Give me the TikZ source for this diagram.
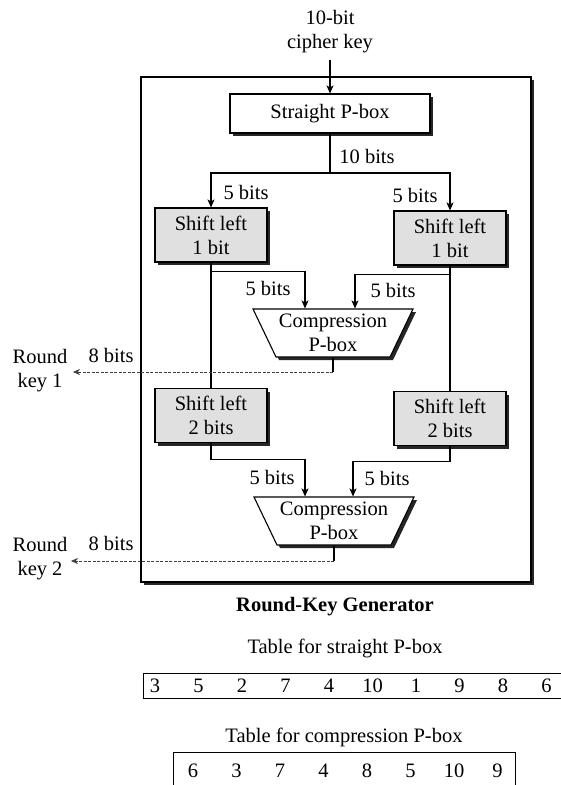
\documentclass[tikz,border=0pt]{standalone}
\usepackage{fontspec}
\setmainfont{Liberation Serif}
\usetikzlibrary{arrows.meta,shadows,calc}
\newcommand\trapshape[1]{%
  \fill[black!85, shift={(#1)}, xshift=3pt, yshift=-3pt] (-80,-24) -- (80,-24) -- (57,24) -- (-57,24) -- cycle;
  \draw[fill=white, shift={(#1)}] (-80,-24) -- (80,-24) -- (57,24) -- (-57,24) -- cycle;}
\begin{document}
\begin{tikzpicture}[x=1pt,y=-1pt,
  font=\fontsize{20.5}{24}\selectfont, line width=1.1pt,
  arr/.style={-{Stealth[length=8pt,width=7pt,inset=2pt]}},
  sh/.style={drop shadow={fill=black!85, opacity=1, shadow xshift=3pt, shadow yshift=-3pt}},
  pbox/.style={draw, fill=white, sh, inner sep=0pt, minimum width=200pt, minimum height=39pt},
  shiftbox/.style={draw, fill=black!12, sh, align=center, inner sep=0pt, minimum width=112pt, minimum height=54pt},
  frame/.style={draw, fill=white, sh, inner sep=0pt, minimum width=390pt, minimum height=505pt},
  comp/.style={inner sep=0pt, align=center, minimum width=160pt, minimum height=48pt},
  lbl/.style={inner sep=0pt},
  keytxt/.style={inner sep=0pt, align=center},
  keyline/.style={black!75, line width=1pt, dash pattern=on 3pt off 1.5pt, -{Stealth[length=7pt,width=6pt,inset=2pt]}},
  tbl/.style={draw, inner sep=0pt, line width=1pt},
  num/.style={inner sep=0pt}]
\useasboundingbox[fill=white] (0,0) rectangle (560,785);

% generator frame
\node[frame] (gen) at (336,329.5) {};

% input
\node[keytxt] (ck) at (330,32) {10-bit\\cipher key};
\node[pbox] (sp) at (330,113.5) {Straight P-box};
\draw[arr, shorten <=6pt] (ck.south) -- (sp.north);

% shift boxes
\node[shiftbox] (s1L) at (211,235) {Shift left\\1 bit};
\node[shiftbox] (s1R) at (450,238) {Shift left\\1 bit};
\node[shiftbox] (s2L) at (211,415.5) {Shift left\\2 bits};
\node[shiftbox] (s2R) at (450,418.5) {Shift left\\2 bits};

% compression P-boxes
\trapshape{333,333}
\node[comp] (cp1) at (333,333) {Compression\\P-box};
\trapshape{334,521}
\node[comp] (cp2) at (334,521) {Compression\\P-box};

% split after straight P-box
\coordinate (split) at (330,173);
\draw (sp.south) -- (split);
\draw[arr] (split) -| (s1L.north);
\draw[arr] (split) -| (s1R.north);
\node[lbl] (l10) at (367,156) {10 bits};
\node[lbl] (l5a) at (246,192) {5 bits};
\node[lbl] (l5b) at (415,195) {5 bits};

% into compression 1
\draw[arr] (s1L.south) -- ++(0,9) -| ([xshift=-28pt]cp1.north);
\draw[arr] (s1R.south) -- ++(0,9) -| ([xshift=22pt]cp1.north);
\node[lbl] (l5c) at (268,288) {5 bits};
\node[lbl] (l5d) at (393,290) {5 bits};

% to second shifts
\draw (s1L.south) -- (s2L.north);
\draw (s1R.south) -- (s2R.north);

% into compression 2
\draw[arr] (s2L.south) -- ++(0,16) -| ([xshift=-29pt]cp2.north);
\draw[arr] (s2R.south) -- ++(0,15) -| ([xshift=19pt]cp2.north);
\node[lbl] (l5e) at (272,477) {5 bits};
\node[lbl] (l5f) at (387,478) {5 bits};

% round keys
\node[keytxt] (rk1) at (40,371) {Round\\key 1};
\node[keytxt] (rk2) at (40,559) {Round\\key 2};
\coordinate (k1) at (333,372);
\coordinate (k2) at (334,561);
\draw (cp1.south) -- (k1);
\draw[keyline, shorten >=5pt] (k1) -- (k1 -| rk1.east);
\draw (cp2.south) -- (k2);
\draw[keyline, shorten >=3pt] (k2) -- (k2 -| rk2.east);
\node[lbl] (l8a) at (111,355) {8 bits};
\node[lbl] (l8b) at (111,543) {8 bits};

\node[lbl, font=\fontsize{20.5}{24}\selectfont\bfseries] (title) at (335,607) {Round-Key Generator};

% tables
\node[lbl] (tt1) at (345,648) {Table for straight P-box};
\node[tbl, minimum width=432pt, minimum height=25pt] (t1) at (359,685.5) {};
\foreach \v [count=\i] in {3,5,2,7,4,10,1,9,8,6}
  \node[num] (t1v\i) at ({155+43.5*(\i-1)},686) {\v};

\node[lbl] (tt2) at (344,737) {Table for compression P-box};
\node[tbl, minimum width=342pt, minimum height=38pt] (t2) at (344,771) {};
\foreach \v [count=\i] in {6,3,7,4,8,5,10,9}
  \node[num] (t2v\i) at ({193+43.5*(\i-1)},771) {\v};
\end{tikzpicture}
\end{document}
